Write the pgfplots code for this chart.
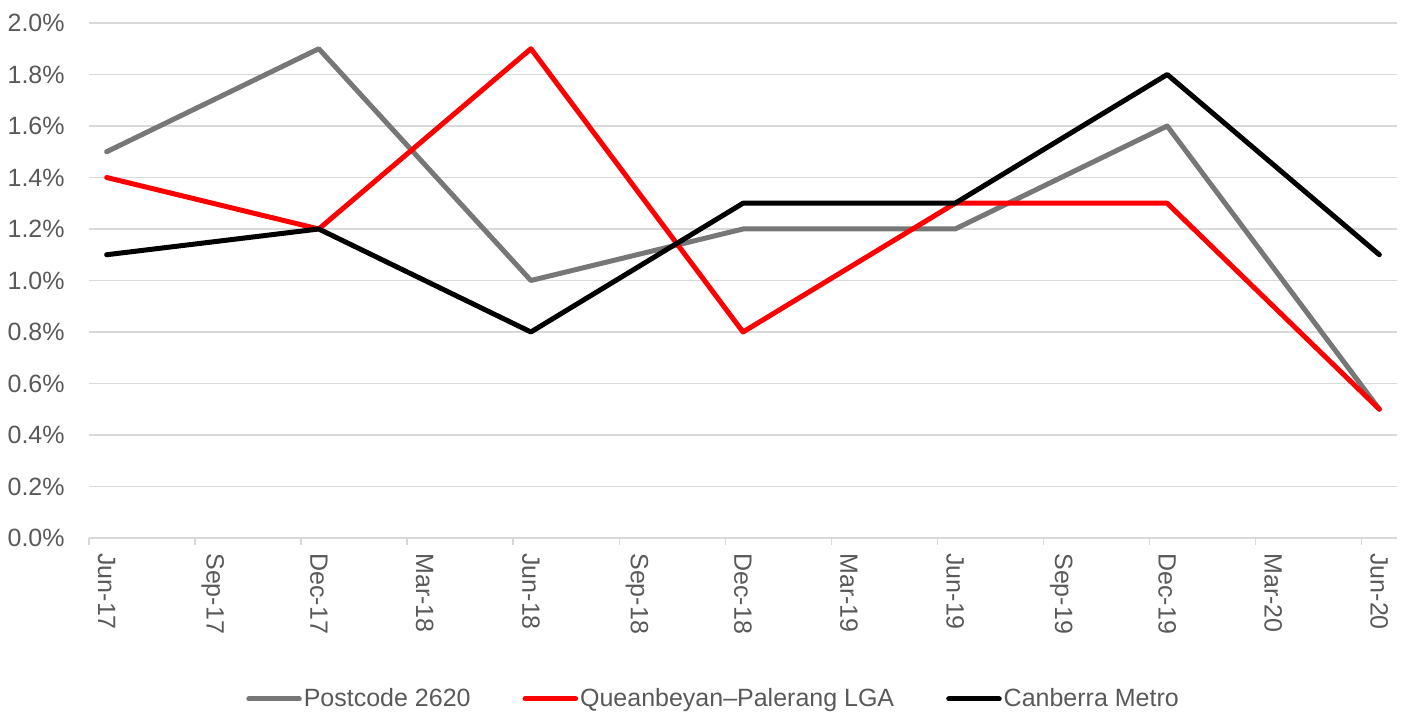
\documentclass[border=0pt]{standalone}
\usepackage{fontspec}
\setmainfont{Liberation Sans}
\usepackage{pgfplots}
\pgfplotsset{compat=1.18}
\usetikzlibrary{calc}
\definecolor{ser1}{HTML}{777777}
\definecolor{ser2}{HTML}{FF0000}
\definecolor{ser3}{HTML}{000000}
\definecolor{gridc}{HTML}{D9D9D9}
\definecolor{labc}{HTML}{595959}
\begin{document}
\begin{tikzpicture}
\begin{axis}[
  name=ax,
  scale only axis, width=654pt, height=257.5pt,
  xmin=0, xmax=37, ymin=0, ymax=2,
  axis lines*=left,
  x axis line style={draw=gridc, line width=0.75pt},
  y axis line style={draw=none},
  ytick={0,0.2,0.4,0.6,0.8,1.0,1.2,1.4,1.6,1.8,2.0},
  ymajorgrids, grid style={draw=gridc, line width=0.75pt},
  /pgf/number format/assume math mode=true,
  yticklabel={\pgfmathprintnumber[fixed,fixed zerofill,precision=1]{\tick}\%},
  xtick={0.5,3.5,6.5,9.5,12.5,15.5,18.5,21.5,24.5,27.5,30.5,33.5,36.5},
  xticklabels={Jun-17,Sep-17,Dec-17,Mar-18,Jun-18,Sep-18,Dec-18,Mar-19,Jun-19,Sep-19,Dec-19,Mar-20,Jun-20},
  major tick length=0pt,
  tick style={draw=gridc, line width=0.75pt},
  extra x ticks={0,3,6,9,12,15,18,21,24,27,30,33,36},
  extra x tick labels={},
  extra x tick style={grid=none, major tick length=3.5pt, tick align=outside},
  tick label style={font=\fontsize{12.5}{15}\selectfont, text=labc},
  xticklabel style={rotate=-90, anchor=west, inner sep=0pt},
  xticklabel shift=7.5pt,
  yticklabel style={anchor=east, inner sep=0pt},
  yticklabel shift=12pt,
  legend columns=3,
  legend style={at={(0.4775,-0.3126)}, anchor=center, draw=none, fill=none,
    font=\fontsize{12.5}{15}\selectfont, text=labc,
    nodes={inner sep=1pt},
    /tikz/every odd column/.append style={column sep=0pt},
    /tikz/every even column/.append style={column sep=25pt},
    /tikz/column 4/.style={column sep=28pt}},
  legend image code/.code={\draw[#1] (1.25pt,0pt) -- (26.5pt,0pt);},
  every axis plot/.append style={line width=2.5pt, line cap=round, line join=round},
]
\addplot[ser1] coordinates {(0.5,1.5) (6.5,1.9) (12.5,1.0) (18.5,1.2) (24.5,1.2) (30.5,1.6) (36.5,0.5)};
\addlegendentry{Postcode 2620}
\addplot[ser2] coordinates {(0.5,1.4) (6.5,1.2) (12.5,1.9) (18.5,0.8) (24.5,1.3) (30.5,1.3) (36.5,0.5)};
\addlegendentry{Queanbeyan–Palerang LGA}
\addplot[ser3] coordinates {(0.5,1.1) (6.5,1.2) (12.5,0.8) (18.5,1.3) (24.5,1.3) (30.5,1.8) (36.5,1.1)};
\addlegendentry{Canberra Metro}
\end{axis}
\pgfresetboundingbox
\path[use as bounding box] ($(ax.south west)+(-44.5pt,-86.5pt)$) rectangle ($(ax.north east)+(4pt,11.5pt)$);
\end{tikzpicture}
\end{document}
